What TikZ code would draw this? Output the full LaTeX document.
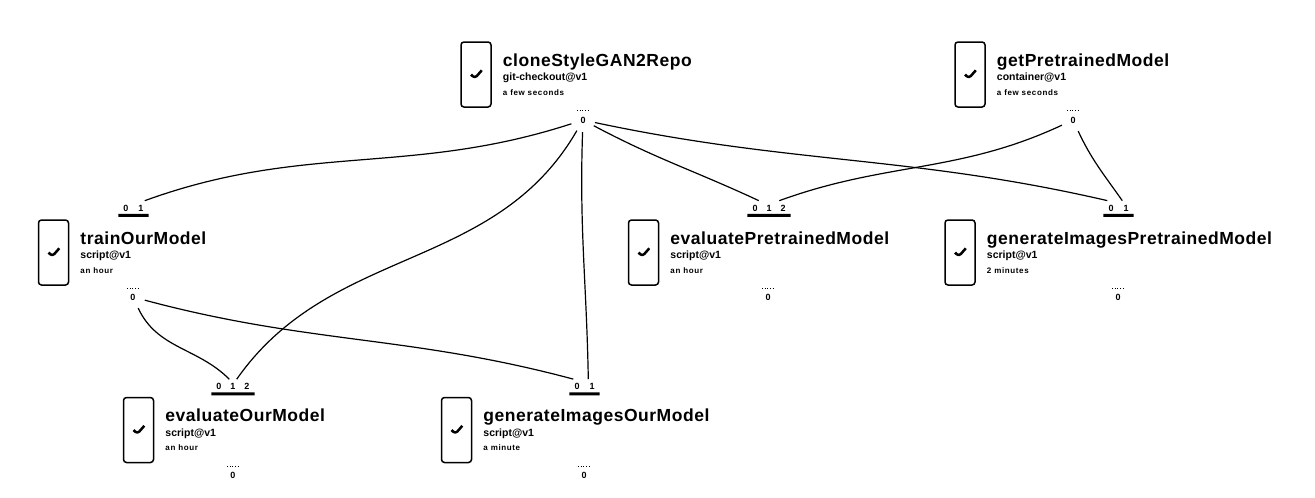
\documentclass[tikz,border=0pt]{standalone}
\usepackage{fontspec}
\setmainfont{Liberation Sans}
\newfontfamily\titlefont{Liberation Sans}[LetterSpace=3]
\newfontfamily\tookfont{Liberation Sans}[LetterSpace=8]
\usetikzlibrary{positioning}

\begin{document}
\begin{tikzpicture}[x=1pt, y=1pt,
  card/.style={draw, line width=1.5pt, rounded corners=3pt, minimum width=30pt,
               minimum height=65pt, inner sep=0pt,
               path picture={\draw[line width=2.5pt, line join=round]
                 ([shift={(-5pt,0pt)}]path picture bounding box.center)
                 -- ++(3.8pt,-3.8pt) -- ++(7pt,8pt);}},
  title/.style={anchor=base west, inner sep=0pt, font=\titlefont\fontsize{17.5}{20}\selectfont\bfseries},
  kind/.style={anchor=base west, inner sep=0pt, font=\fontsize{10.5}{12}\selectfont\bfseries},
  took/.style={anchor=base west, inner sep=0pt, font=\tookfont\fontsize{8}{10}\selectfont\bfseries},
  outport/.style={circle, minimum size=24pt, inner sep=0pt, font=\fontsize{9}{10}\selectfont\bfseries},
  inport/.style={inner xsep=1pt, inner ysep=4pt, font=\fontsize{9}{10}\selectfont\bfseries},
  bar/.style={line width=3pt},
  dots/.style={dotted, line width=0.7pt},
  link/.style={line width=1.2pt}]
\useasboundingbox (0,0) rectangle (1315,-498);

% top row
\node[card] (clone) at (476,-74.5) {};
\node[title] (clonet) at ([shift={(11pt,8.5pt)}]clone.east) {cloneStyleGAN2Repo};
\node[kind] (clonek) at ([yshift=-14.5pt]clonet.base west) {git-checkout@v1};
\node[took] at ([yshift=-14.5pt]clonek.base west) {a few seconds};
\node[outport] (cloneo) at (583,-120) {0};
\draw[dots] ([shift={(-6pt,10pt)}]cloneo.center) -- ++(12pt,0);

\node[card] (getmodel) at (970,-74.5) {};
\node[title] (getmodelt) at ([shift={(11pt,8.5pt)}]getmodel.east) {getPretrainedModel};
\node[kind] (getmodelk) at ([yshift=-14.5pt]getmodelt.base west) {container@v1};
\node[took] at ([yshift=-14.5pt]getmodelk.base west) {a few seconds};
\node[outport] (getmodelo) at (1073,-120) {0};
\draw[dots] ([shift={(-6pt,10pt)}]getmodelo.center) -- ++(12pt,0);

% middle row
\node[card] (train) at (53.5,-252.5) {};
\node[title] (traint) at ([shift={(11pt,8.5pt)}]train.east) {trainOurModel};
\node[kind] (traink) at ([yshift=-14.5pt]traint.base west) {script@v1};
\node[took] at ([yshift=-14.5pt]traink.base west) {an hour};
\node[outport] (traino) at (133,-297) {0};
\draw[dots] ([shift={(-6pt,9pt)}]traino.center) -- ++(12pt,0);
\node[inport] (trainin0) at (126,-208) {0};
\node[inport] (trainin1) at (141,-208) {1};
\draw[bar] ([xshift=-4pt]trainin0.south west) -- ([xshift=4pt]trainin1.south east);

\node[card] (evalpre) at (643.5,-252.5) {};
\node[title] (evalpret) at ([shift={(11pt,8.5pt)}]evalpre.east) {evaluatePretrainedModel};
\node[kind] (evalprek) at ([yshift=-14.5pt]evalpret.base west) {script@v1};
\node[took] at ([yshift=-14.5pt]evalprek.base west) {an hour};
\node[outport] (evalpreo) at (768,-297) {0};
\draw[dots] ([shift={(-6pt,9pt)}]evalpreo.center) -- ++(12pt,0);
\node[inport] (evalprein0) at (755,-208) {0};
\node[inport] (evalprein1) at (769,-208) {1};
\node[inport] (evalprein2) at (783,-208) {2};
\draw[bar] ([xshift=-4pt]evalprein0.south west) -- ([xshift=4pt]evalprein2.south east);

\node[card] (genpre) at (960,-252.5) {};
\node[title] (genpret) at ([shift={(11pt,8.5pt)}]genpre.east) {generateImagesPretrainedModel};
\node[kind] (genprek) at ([yshift=-14.5pt]genpret.base west) {script@v1};
\node[took] at ([yshift=-14.5pt]genprek.base west) {2 minutes};
\node[outport] (genpreo) at (1118,-297) {0};
\draw[dots] ([shift={(-6pt,9pt)}]genpreo.center) -- ++(12pt,0);
\node[inport] (genprein0) at (1111,-208) {0};
\node[inport] (genprein1) at (1126,-208) {1};
\draw[bar] ([xshift=-4pt]genprein0.south west) -- ([xshift=4pt]genprein1.south east);

% bottom row
\node[card] (evalour) at (138.5,-430) {};
\node[title] (evalourt) at ([shift={(11pt,8.5pt)}]evalour.east) {evaluateOurModel};
\node[kind] (evalourk) at ([yshift=-14.5pt]evalourt.base west) {script@v1};
\node[took] at ([yshift=-14.5pt]evalourk.base west) {an hour};
\node[outport] (evalouro) at (233,-475) {0};
\draw[dots] ([shift={(-6pt,9pt)}]evalouro.center) -- ++(12pt,0);
\node[inport] (evalourin0) at (219,-386.5) {0};
\node[inport] (evalourin1) at (233,-386.5) {1};
\node[inport] (evalourin2) at (247,-386.5) {2};
\draw[bar] ([xshift=-4pt]evalourin0.south west) -- ([xshift=4pt]evalourin2.south east);

\node[card] (genour) at (456.5,-430) {};
\node[title] (genourt) at ([shift={(11pt,8.5pt)}]genour.east) {generateImagesOurModel};
\node[kind] (genourk) at ([yshift=-14.5pt]genourt.base west) {script@v1};
\node[took] at ([yshift=-14.5pt]genourk.base west) {a minute};
\node[outport] (genouro) at (584,-475) {0};
\draw[dots] ([shift={(-6pt,9pt)}]genouro.center) -- ++(12pt,0);
\node[inport] (genourin0) at (577,-386.5) {0};
\node[inport] (genourin1) at (592,-386.5) {1};
\draw[bar] ([xshift=-4pt]genourin0.south west) -- ([xshift=4pt]genourin1.south east);

% connectors
\draw[link] (cloneo) to[out=198, in=20] (trainin1.north east);
\draw[link] (cloneo) to[out=240, in=55] (evalourin1.north east);
\draw[link] (cloneo) to[out=268, in=91] (genourin1.north west);
\draw[link] (cloneo) to[out=-28, in=155] (evalprein0.north east);
\draw[link] (cloneo) to[out=-12, in=167] (genprein0.north west);
\draw[link] (getmodelo) to[out=205, in=20] (evalprein2.north west);
\draw[link] (getmodelo) to[out=-65, in=125] (genprein1.north west);
\draw[link] (traino) to[out=-65, in=135] (evalourin1.north west);
\draw[link] (traino) to[out=-15, in=165] (genourin0.north west);
\end{tikzpicture}
\end{document}
